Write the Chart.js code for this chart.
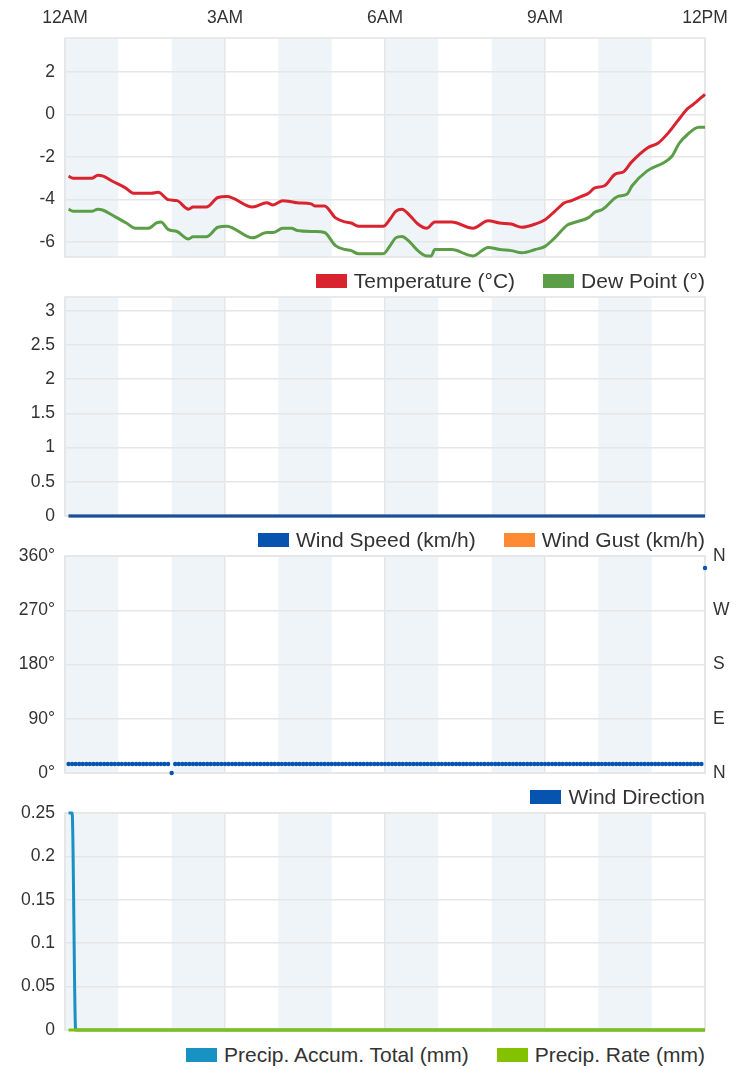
<!DOCTYPE html>
<html><head><meta charset="utf-8">
<script src="https://cdn.jsdelivr.net/npm/chart.js@4.4.0/dist/chart.umd.min.js"></script>
<style>
html,body{margin:0;padding:0;background:#fff;}
body{width:745px;height:1069px;position:relative;overflow:hidden;font-family:"Liberation Sans",Arial,sans-serif;}
canvas{position:absolute;left:0;}
.legend{position:absolute;right:40px;display:flex;align-items:center;gap:28px;height:24px;line-height:24px;font-size:21px;color:#333;white-space:nowrap;}
.legend .item{display:flex;align-items:center;}
.legend .box{display:inline-block;width:31px;height:14px;margin-right:7px;}
</style></head><body>
<canvas id="c1" width="745" height="269" style="top:0px"></canvas>
<canvas id="c2" width="745" height="243" style="top:285px"></canvas>
<canvas id="c3" width="745" height="241" style="top:544px"></canvas>
<canvas id="c4" width="745" height="241" style="top:801px"></canvas>
<script>
// ---------- DATA ----------
const xTickMinutes = [0, 180, 360, 540, 720];
const xTickLabels = ['12AM', '3AM', '6AM', '9AM', '12PM'];
const shadedHours = [0, 2, 4, 6, 8, 10];

const tempMinutes = [4,9,30,37,43,54,68,77,97,105,116,126,139,144,159,172,182,211,227,234,245,255,261,277,281,292,304,315,322,330,358,366,372,379,388,397,407,416,435,459,476,489,502,514,529,540,551,562,570,581,589,596,607,619,628,637,656,667,679,692,701,706,720];
const tempValues  = [-2.9,-3.0,-3.0,-2.85,-2.9,-3.15,-3.45,-3.7,-3.7,-3.65,-4.0,-4.05,-4.45,-4.35,-4.35,-3.9,-3.85,-4.35,-4.15,-4.25,-4.05,-4.1,-4.15,-4.2,-4.3,-4.3,-4.85,-5.05,-5.1,-5.25,-5.25,-4.9,-4.55,-4.45,-4.75,-5.15,-5.35,-5.05,-5.05,-5.35,-5.0,-5.1,-5.15,-5.3,-5.15,-4.95,-4.55,-4.15,-4.05,-3.85,-3.7,-3.45,-3.35,-2.8,-2.7,-2.25,-1.55,-1.35,-0.85,-0.15,0.3,0.45,0.95];

const dewMinutes = [4,9,30,37,43,54,69,79,94,103,108,116,126,139,144,159,172,182,211,227,234,245,255,261,281,292,304,315,322,330,358,366,372,379,388,397,407,412,416,435,459,476,489,502,514,529,540,551,565,571,589,596,605,622,632,638,655,674,683,691,700,713,720];
const dewValues  = [-4.45,-4.55,-4.55,-4.45,-4.5,-4.75,-5.1,-5.35,-5.35,-5.1,-5.05,-5.4,-5.5,-5.85,-5.75,-5.75,-5.3,-5.25,-5.8,-5.55,-5.55,-5.35,-5.35,-5.45,-5.5,-5.55,-6.15,-6.35,-6.4,-6.55,-6.55,-6.15,-5.8,-5.73,-6.0,-6.4,-6.65,-6.65,-6.35,-6.35,-6.65,-6.25,-6.35,-6.4,-6.5,-6.35,-6.2,-5.8,-5.2,-5.1,-4.85,-4.6,-4.45,-3.85,-3.75,-3.35,-2.65,-2.25,-1.95,-1.35,-0.95,-0.6,-0.6];

const obsMinutes = [
4,8,12,16,20,24,28,32,36,40,44,48,52,56,60,
64,68,72,76,80,84,88,92,96,100,104,108,112,116,120,
124,128,132,136,140,144,148,152,156,160,164,168,172,176,180,
184,188,192,196,200,204,208,212,216,220,224,228,232,236,240,
244,248,252,256,260,264,268,272,276,280,284,288,292,296,300,
304,308,312,316,320,324,328,332,336,340,344,348,352,356,360,
364,368,372,376,380,384,388,392,396,400,404,408,412,416,420,
424,428,432,436,440,444,448,452,456,460,464,468,472,476,480,
484,488,492,496,500,504,508,512,516,520,524,528,532,536,540,
544,548,552,556,560,564,568,572,576,580,584,588,592,596,600,
604,608,612,616,620,624,628,632,636,640,644,648,652,656,660,
664,668,672,676,680,684,688,692,696,700,704,708,712,716,720];

const windSpeed = [
0,0,0,0,0,0,0,0,0,0,0,0,0,0,0, 0,0,0,0,0,0,0,0,0,0,0,0,0,0,0,
0,0,0,0,0,0,0,0,0,0,0,0,0,0,0, 0,0,0,0,0,0,0,0,0,0,0,0,0,0,0,
0,0,0,0,0,0,0,0,0,0,0,0,0,0,0, 0,0,0,0,0,0,0,0,0,0,0,0,0,0,0,
0,0,0,0,0,0,0,0,0,0,0,0,0,0,0, 0,0,0,0,0,0,0,0,0,0,0,0,0,0,0,
0,0,0,0,0,0,0,0,0,0,0,0,0,0,0, 0,0,0,0,0,0,0,0,0,0,0,0,0,0,0,
0,0,0,0,0,0,0,0,0,0,0,0,0,0,0, 0,0,0,0,0,0,0,0,0,0,0,0,0,0,0];
const windGust = [
0,0,0,0,0,0,0,0,0,0,0,0,0,0,0, 0,0,0,0,0,0,0,0,0,0,0,0,0,0,0,
0,0,0,0,0,0,0,0,0,0,0,0,0,0,0, 0,0,0,0,0,0,0,0,0,0,0,0,0,0,0,
0,0,0,0,0,0,0,0,0,0,0,0,0,0,0, 0,0,0,0,0,0,0,0,0,0,0,0,0,0,0,
0,0,0,0,0,0,0,0,0,0,0,0,0,0,0, 0,0,0,0,0,0,0,0,0,0,0,0,0,0,0,
0,0,0,0,0,0,0,0,0,0,0,0,0,0,0, 0,0,0,0,0,0,0,0,0,0,0,0,0,0,0,
0,0,0,0,0,0,0,0,0,0,0,0,0,0,0, 0,0,0,0,0,0,0,0,0,0,0,0,0,0,0];
const windDir = [
15,15,15,15,15,15,15,15,15,15,15,15,15,15,15, 15,15,15,15,15,15,15,15,15,15,15,15,15,15,0,
15,15,15,15,15,15,15,15,15,15,15,15,15,15,15, 15,15,15,15,15,15,15,15,15,15,15,15,15,15,15,
15,15,15,15,15,15,15,15,15,15,15,15,15,15,15, 15,15,15,15,15,15,15,15,15,15,15,15,15,15,15,
15,15,15,15,15,15,15,15,15,15,15,15,15,15,15, 15,15,15,15,15,15,15,15,15,15,15,15,15,15,15,
15,15,15,15,15,15,15,15,15,15,15,15,15,15,15, 15,15,15,15,15,15,15,15,15,15,15,15,15,15,15,
15,15,15,15,15,15,15,15,15,15,15,15,15,15,15, 15,15,15,15,15,15,15,15,15,15,15,15,15,15,340];
const precipAccum = [
0.25,0.25,0,0,0,0,0,0,0,0,0,0,0,0,0, 0,0,0,0,0,0,0,0,0,0,0,0,0,0,0,
0,0,0,0,0,0,0,0,0,0,0,0,0,0,0, 0,0,0,0,0,0,0,0,0,0,0,0,0,0,0,
0,0,0,0,0,0,0,0,0,0,0,0,0,0,0, 0,0,0,0,0,0,0,0,0,0,0,0,0,0,0,
0,0,0,0,0,0,0,0,0,0,0,0,0,0,0, 0,0,0,0,0,0,0,0,0,0,0,0,0,0,0,
0,0,0,0,0,0,0,0,0,0,0,0,0,0,0, 0,0,0,0,0,0,0,0,0,0,0,0,0,0,0,
0,0,0,0,0,0,0,0,0,0,0,0,0,0,0, 0,0,0,0,0,0,0,0,0,0,0,0,0,0,0];
const precipRate = [
0,0,0,0,0,0,0,0,0,0,0,0,0,0,0, 0,0,0,0,0,0,0,0,0,0,0,0,0,0,0,
0,0,0,0,0,0,0,0,0,0,0,0,0,0,0, 0,0,0,0,0,0,0,0,0,0,0,0,0,0,0,
0,0,0,0,0,0,0,0,0,0,0,0,0,0,0, 0,0,0,0,0,0,0,0,0,0,0,0,0,0,0,
0,0,0,0,0,0,0,0,0,0,0,0,0,0,0, 0,0,0,0,0,0,0,0,0,0,0,0,0,0,0,
0,0,0,0,0,0,0,0,0,0,0,0,0,0,0, 0,0,0,0,0,0,0,0,0,0,0,0,0,0,0,
0,0,0,0,0,0,0,0,0,0,0,0,0,0,0, 0,0,0,0,0,0,0,0,0,0,0,0,0,0,0];

const tempTicks = [-6, -4, -2, 0, 2];
const windTicks = [0, 0.5, 1, 1.5, 2, 2.5, 3];
const dirTicks = [0, 90, 180, 270, 360];
const dirTickLabels = ['0°', '90°', '180°', '270°', '360°'];
const compassLabels = ['N', 'E', 'S', 'W', 'N'];
const precipTicks = [0, 0.05, 0.1, 0.15, 0.2, 0.25];

// ---------- CHARTS ----------
Chart.defaults.font.family = '"Liberation Sans", Arial, sans-serif';
Chart.defaults.font.size = 17.5;
Chart.defaults.color = '#333';

const GRID = '#e6e6e6';
const pts = (xs, ys) => xs.map((x, i) => ({ x: x, y: ys[i] }));

const bandPlugin = {
  id: 'bands',
  beforeDraw(chart) {
    const { ctx, chartArea: a, scales } = chart;
    const x = scales.x;
    ctx.save();
    ctx.fillStyle = '#eff4f9';
    shadedHours.forEach(h => {
      const l = x.getPixelForValue(h * 60), r = x.getPixelForValue((h + 1) * 60);
      ctx.fillRect(l, a.top, r - l, a.bottom - a.top);
    });
    ctx.strokeStyle = '#e3e3e3';
    ctx.lineWidth = 1.5;
    ctx.strokeRect(a.left, a.top, a.right - a.left, a.bottom - a.top);
    ctx.restore();
  }
};

function xScale(showLabels) {
  return {
    type: 'linear', min: 0, max: 720, position: 'top',
    afterBuildTicks: s => { s.ticks = xTickMinutes.map(v => ({ value: v })); },
    ticks: { display: showLabels, padding: 9, maxRotation: 0, autoSkip: false,
             callback: (v, i) => xTickLabels[i] },
    grid: { color: GRID, lineWidth: 1.5, drawTicks: false },
    border: { display: false },
    afterFit: s => { s.height = showLabels ? 38 : 0; s.paddingLeft = 0; s.paddingRight = 0; }
  };
}
function yScale(min, max, ticks, labels) {
  return {
    type: 'linear', min: min, max: max, position: 'left',
    afterBuildTicks: s => { s.ticks = ticks.map(v => ({ value: v })); },
    ticks: { padding: 10, callback: (v, i) => labels ? labels[i] : String(v) },
    grid: { color: GRID, lineWidth: 1.5, drawTicks: false },
    border: { display: false },
    afterFit: s => { s.width = 65; s.paddingTop = 0; s.paddingBottom = 0; }
  };
}
function lineDs(label, color, data, order) {
  return { label: label, data: data, borderColor: color, backgroundColor: color,
           borderWidth: 3, pointRadius: 0, tension: 0.3, cubicInterpolationMode: 'monotone',
           fill: false, clip: false, order: order };
}
function makeChart(id, datasets, scales, padding) {
  return new Chart(document.getElementById(id), {
    type: 'line',
    data: { datasets: datasets },
    options: {
      responsive: false, animation: false,
      layout: { padding: padding },
      plugins: { legend: { display: false }, tooltip: { enabled: false } },
      scales: scales
    },
    plugins: [bandPlugin]
  });
}
function htmlLegend(chart, centerY) {
  const div = document.createElement('div');
  div.className = 'legend';
  div.style.top = (centerY - 12) + 'px';
  chart.data.datasets.forEach(ds => {
    const item = document.createElement('div'); item.className = 'item';
    const box = document.createElement('span'); box.className = 'box';
    box.style.background = ds.borderColor;
    const txt = document.createElement('span'); txt.textContent = ds.label;
    item.append(box, txt); div.append(item);
  });
  document.body.append(div);
}

const c1 = makeChart('c1', [
  lineDs('Temperature (°C)', '#d9232e', pts(tempMinutes, tempValues), 1),
  lineDs('Dew Point (°)', '#5c9e47', pts(dewMinutes, dewValues), 2)
], { x: xScale(true), y: yScale(-6.7, 3.6, tempTicks) }, { left: 0, right: 40, top: 0, bottom: 12 });
htmlLegend(c1, 281);

const c2 = makeChart('c2', [
  lineDs('Wind Speed (km/h)', '#0653b0', pts(obsMinutes, windSpeed), 1),
  lineDs('Wind Gust (km/h)', '#ff8a33', pts(obsMinutes, windGust), 2)
], { x: xScale(false), y: yScale(0, 3.2, windTicks) }, { left: 0, right: 40, top: 12, bottom: 12 });
htmlLegend(c2, 540);

const dirDs = { label: 'Wind Direction', data: pts(obsMinutes, windDir), showLine: false,
  borderColor: '#0653b0', backgroundColor: '#0653b0', pointRadius: 2.2, pointBorderWidth: 0, clip: false };
const y2 = {
  type: 'linear', min: 0, max: 360, position: 'right',
  afterBuildTicks: s => { s.ticks = dirTicks.map(v => ({ value: v })); },
  ticks: { padding: 8, callback: (v, i) => compassLabels[i] },
  grid: { display: false, drawTicks: false },
  border: { display: false },
  afterFit: s => { s.width = 40; s.paddingTop = 0; s.paddingBottom = 0; }
};
const c3 = makeChart('c3', [dirDs],
  { x: xScale(false), y: yScale(0, 360, dirTicks, dirTickLabels), y2: y2 },
  { left: 0, right: 0, top: 12, bottom: 12 });
htmlLegend(c3, 797);

const c4 = makeChart('c4', [
  lineDs('Precip. Accum. Total (mm)', '#1891c3', pts(obsMinutes, precipAccum), 2),
  lineDs('Precip. Rate (mm)', '#84c100', pts(obsMinutes, precipRate), 1)
], { x: xScale(false), y: yScale(0, 0.25, precipTicks) }, { left: 0, right: 40, top: 12, bottom: 12 });
htmlLegend(c4, 1055);
</script>
</body></html>
